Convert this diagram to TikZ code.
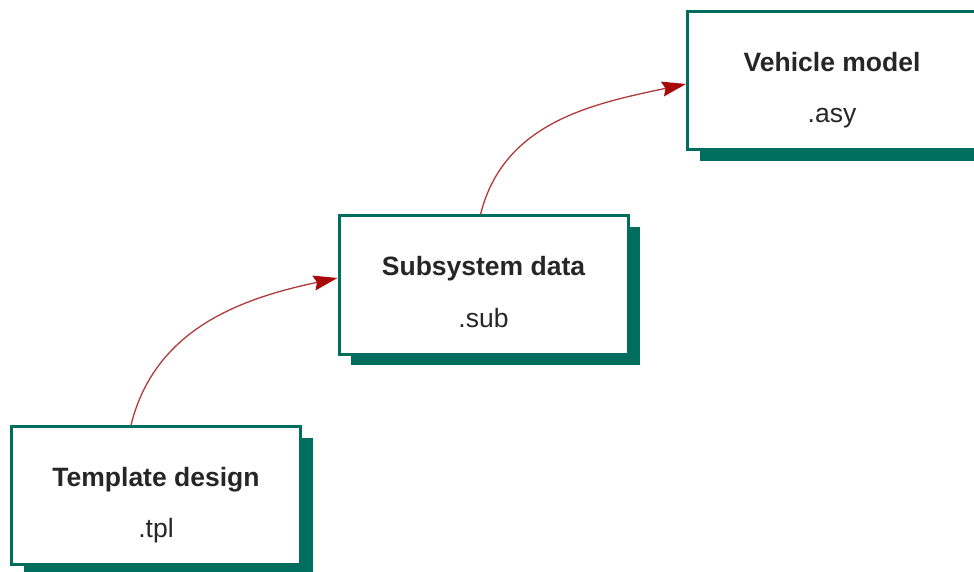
\documentclass[tikz,border=0pt]{standalone}
\usepackage{fontspec}
\setmainfont{Liberation Sans}
\usetikzlibrary{arrows.meta,shadows}
\definecolor{boxteal}{HTML}{006E5E}
\definecolor{linkred}{HTML}{A80A0A}
\definecolor{linkline}{HTML}{B03A3A}
\tikzset{
  filebox/.style={draw=boxteal,line width=3pt,fill=white,minimum width=289pt,minimum height=138pt,
    drop shadow={shadow xshift=12pt,shadow yshift=-11pt,fill=boxteal,opacity=1}},
  filename/.style={anchor=base,text=black!85,font=\fontsize{26.5}{30}\selectfont\bfseries},
  fileext/.style={anchor=base,text=black!85,font=\fontsize{26.5}{30}\selectfont},
  link/.style={linkline,line width=1.3pt,-{Stealth[length=24pt,width=15pt,inset=3pt,color=linkred]}}
}

\begin{document}
\begin{tikzpicture}[x=1pt,y=1pt]
  \clip (0,0) rectangle (974,571);
  \node[filebox] (tpl) at (156,75.5) {};
  \node[filebox] (sub) at (483.5,286) {};
  \node[filebox] (veh) at (832,490) {};
  \node[filename] (tplname) at ([yshift=9pt]tpl.center) {Template design};
  \node[fileext] (tplext) at ([yshift=-42pt]tpl.center) {.tpl};
  \node[filename] (subname) at ([yshift=9pt]sub.center) {Subsystem data};
  \node[fileext] (subext) at ([yshift=-42pt]sub.center) {.sub};
  \node[filename] (vehname) at ([yshift=9pt]veh.center) {Vehicle model};
  \node[fileext] (vehext) at ([yshift=-42pt]veh.center) {.asy};
  \draw[link] ([xshift=-25pt]tpl.north) to[out=76,in=192] ([yshift=7pt]sub.west);
  \draw[link] ([xshift=-3pt]sub.north) to[out=76,in=192] ([yshift=-3pt]veh.west);
\end{tikzpicture}
\end{document}
